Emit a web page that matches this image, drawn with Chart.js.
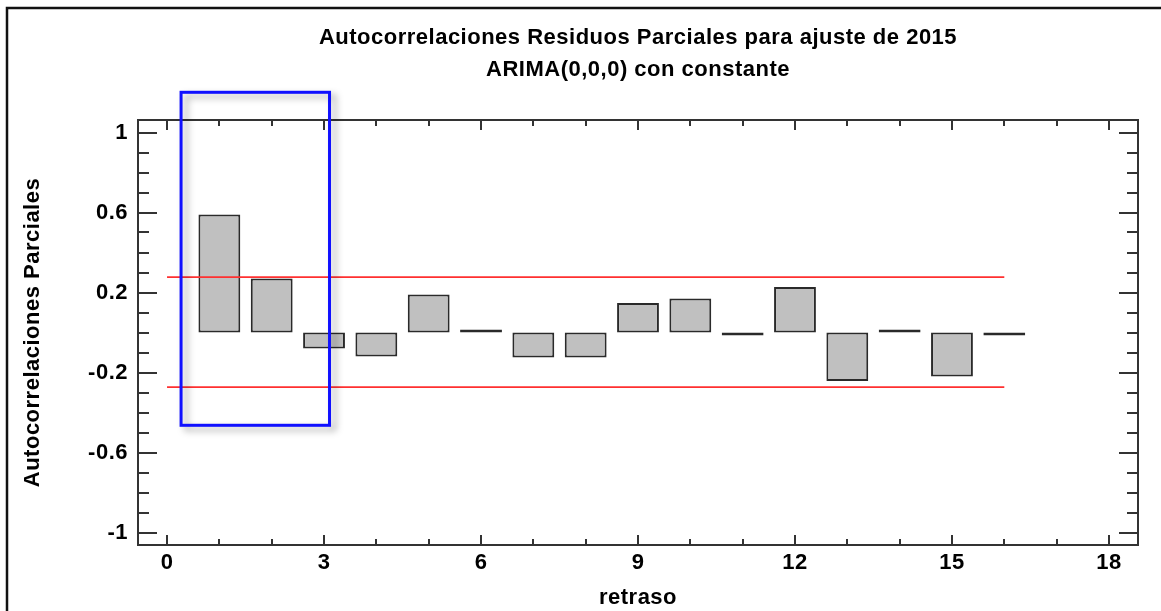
<!DOCTYPE html>
<html>
<head>
<meta charset="utf-8">
<script src="https://cdn.jsdelivr.net/npm/chart.js@4/dist/chart.umd.min.js"></script>
<style>
  html, body { margin: 0; padding: 0; background: #fff; }
  #wrap { width: 1161px; height: 611px; position: relative; }
</style>
</head>
<body>
<div id="wrap"><canvas id="c" width="1161" height="611"></canvas></div>
<script>
// ---- data ----
const lags = [1, 2, 3, 4, 5, 6, 7, 8, 9, 10, 11, 12, 13, 14, 15, 16];
const pacf = [0.59, 0.27, -0.08, -0.12, 0.19, 0.012, -0.125, -0.125, 0.147, 0.17, -0.012, 0.228, -0.242, 0.01, -0.22, -0.01];
const limitLags = [0, 16];
const upperLimit = [0.277, 0.277];
const lowerLimit = [-0.273, -0.273];
const xTickValues = [0, 3, 6, 9, 12, 15, 18];
const yTickValues = [-1, -0.6, -0.2, 0.2, 0.6, 1];
const titleLines = ['Autocorrelaciones Residuos Parciales para ajuste de 2015', 'ARIMA(0,0,0) con constante'];
const xTitle = 'retraso';
const yTitle = 'Autocorrelaciones Parciales';
// highlighted region (in data units)
const boxLag = [0.268, 3.105];
const boxValue = [-0.464, 1.201];

const FONT = "'Liberation Sans', Arial, sans-serif";
const FSIZE = 22;
const AXIS = '#333';

const spacingPlugin = {
  id: 'spacing',
  beforeLayout(chart) { try { chart.ctx.letterSpacing = '0.5px'; } catch (e) {} },
  beforeDraw(chart) { try { chart.ctx.letterSpacing = '0.5px'; } catch (e) {} }
};

const framePlugin = {
  id: 'frame',
  beforeDraw(chart) {
    const ctx = chart.ctx;
    ctx.save();
    ctx.fillStyle = '#fff';
    ctx.fillRect(0, 0, chart.width, chart.height);
    ctx.strokeStyle = '#111';
    ctx.lineWidth = 2.5;
    ctx.beginPath();
    ctx.moveTo(7, chart.height + 2);
    ctx.lineTo(7, 8);
    ctx.lineTo(chart.width + 2, 8);
    ctx.stroke();
    ctx.restore();
  }
};

const axesPlugin = {
  id: 'axesBox',
  afterDatasetsDraw(chart) {
    const {ctx, chartArea: a, scales: {x, y}} = chart;
    ctx.save();
    ctx.strokeStyle = AXIS;
    ctx.lineWidth = 2;
    ctx.lineCap = 'butt';
    const yMin = Math.ceil(y.min * 10), yMax = Math.floor(y.max * 10);
    for (let i = yMin; i <= yMax; i++) {
      const v = i / 10;
      const major = yTickValues.some(t => Math.abs(t - v) < 1e-9);
      const len = major ? 19 : 11;
      const py = Math.round(y.getPixelForValue(v));
      ctx.beginPath();
      ctx.moveTo(a.left, py); ctx.lineTo(a.left + len, py);
      ctx.moveTo(a.right, py); ctx.lineTo(a.right - len, py);
      ctx.stroke();
    }
    for (let i = Math.ceil(x.min); i <= Math.floor(x.max); i++) {
      const major = xTickValues.includes(i);
      const len = major ? 10 : 6;
      const px = Math.round(x.getPixelForValue(i));
      ctx.beginPath();
      ctx.moveTo(px, a.bottom); ctx.lineTo(px, a.bottom - len);
      ctx.moveTo(px, a.top); ctx.lineTo(px, a.top + len);
      ctx.stroke();
    }
    ctx.strokeRect(a.left, a.top, a.right - a.left, a.bottom - a.top);
    ctx.restore();
  }
};

const boxPlugin = {
  id: 'highlight',
  afterDraw(chart) {
    const {ctx, scales: {x, y}} = chart;
    const x0 = x.getPixelForValue(boxLag[0]), x1 = x.getPixelForValue(boxLag[1]);
    const y0 = y.getPixelForValue(boxValue[1]), y1 = y.getPixelForValue(boxValue[0]);
    ctx.save();
    ctx.shadowColor = 'rgba(0,0,0,0.35)';
    ctx.shadowBlur = 7;
    ctx.shadowOffsetX = 5;
    ctx.shadowOffsetY = 4;
    ctx.strokeStyle = '#1010ff';
    ctx.lineWidth = 3;
    ctx.strokeRect(x0, y0, x1 - x0, y1 - y0);
    ctx.restore();
  }
};

new Chart(document.getElementById('c'), {
  type: 'bar',
  data: {
    datasets: [
      {
        type: 'line',
        data: limitLags.map((l, i) => ({x: l, y: upperLimit[i]})),
        borderColor: '#ff3030', borderWidth: 1.8, pointRadius: 0, fill: false, order: 1
      },
      {
        type: 'line',
        data: limitLags.map((l, i) => ({x: l, y: lowerLimit[i]})),
        borderColor: '#ff3030', borderWidth: 1.8, pointRadius: 0, fill: false, order: 1
      },
      {
        type: 'bar',
        data: lags.map((l, i) => ({x: l, y: pacf[i]})),
        backgroundColor: '#c0c0c0',
        borderColor: '#2a2a2a',
        borderWidth: 2,
        borderSkipped: false,
        minBarLength: 3,
        categoryPercentage: 0.8,
        barPercentage: 1.0,
        order: 2
      }
    ]
  },
  options: {
    responsive: false,
    animation: false,
    devicePixelRatio: 1,
    layout: { padding: { left: 0, right: 23, top: 0, bottom: 0 } },
    plugins: {
      legend: { display: false },
      tooltip: { enabled: false },
      title: {
        display: true,
        text: titleLines,
        fullSize: false,
        color: '#000',
        font: { family: FONT, size: FSIZE, weight: 'bold', lineHeight: 32 / FSIZE },
        padding: { top: 22, bottom: 34 }
      }
    },
    scales: {
      x: {
        type: 'linear',
        min: -0.555, max: 18.555,
        offset: false,
        grid: { display: false, drawTicks: false },
        border: { display: false },
        afterBuildTicks: s => { s.ticks = xTickValues.map(v => ({value: v})); },
        afterFit: s => { s.height = 66; },
        ticks: {
          color: '#000', padding: 5, maxRotation: 0, autoSkip: false,
          font: { family: FONT, size: FSIZE, weight: 'bold' },
          callback: v => String(v)
        },
        title: {
          display: true, text: xTitle, color: '#000',
          font: { family: FONT, size: FSIZE, weight: 'bold', lineHeight: 1.2 },
          padding: { top: 0, bottom: 0 }
        }
      },
      y: {
        type: 'linear',
        min: -1.0625, max: 1.0625,
        grid: { display: false, drawTicks: false },
        border: { display: false },
        afterBuildTicks: s => { s.ticks = yTickValues.map(v => ({value: v})); },
        afterFit: s => { s.width = 138; },
        ticks: {
          color: '#000', padding: 10, autoSkip: false,
          font: { family: FONT, size: FSIZE, weight: 'bold' },
          callback: v => String(Math.round(v * 10) / 10)
        },
        title: {
          display: true, text: yTitle, color: '#000',
          font: { family: FONT, size: FSIZE, weight: 'bold', lineHeight: 1.2 },
          padding: { top: 20, bottom: 0 }
        }
      }
    }
  },
  plugins: [spacingPlugin, framePlugin, axesPlugin, boxPlugin]
});
</script>
</body>
</html>
